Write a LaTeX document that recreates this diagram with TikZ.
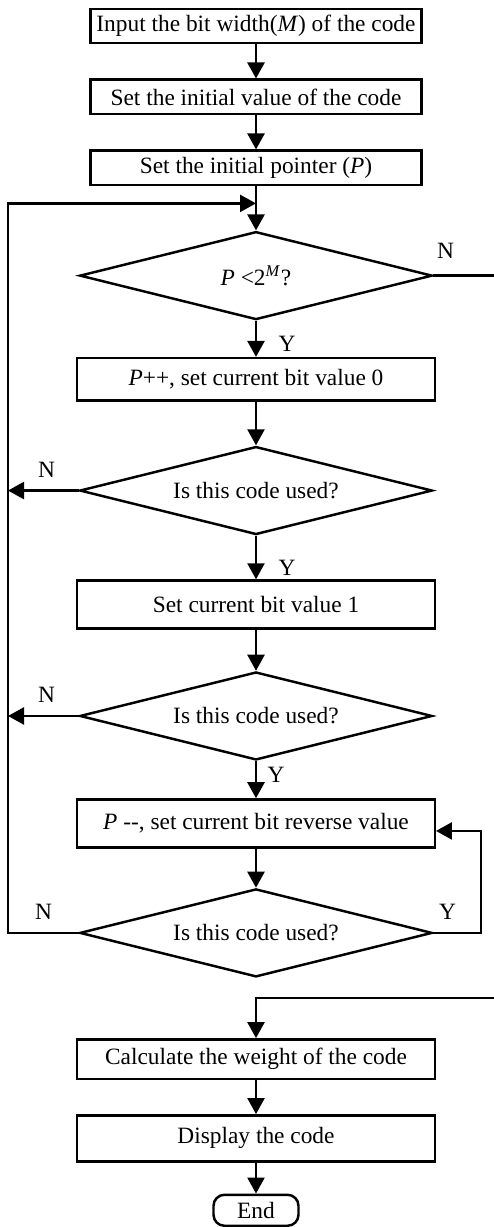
\documentclass[tikz,border=0pt]{standalone}
\usepackage{fontspec}
\setmainfont{Liberation Serif}
\usetikzlibrary{arrows.meta,positioning,shapes.geometric,calc}
\tikzset{
  txt/.style={font=\fontsize{13.3}{15}\selectfont},
  box/.style={txt,draw,line width=1.4pt,minimum width=7.15cm,
    minimum height=0.9cm,inner sep=2pt,align=center},
  topbox/.style={box,minimum width=6.62cm,minimum height=0.69cm},
  decision/.style={txt,draw,diamond,line width=1.4pt,aspect=4,inner sep=0pt,
    minimum width=7.05cm,minimum height=1.76cm},
  terminal/.style={txt,draw,rounded corners=0.22cm,line width=1.4pt,
    minimum width=1.7cm,minimum height=0.62cm},
  lbl/.style={txt,inner sep=0pt},
  arrow/.style={-{Triangle[length=0.32cm,width=0.34cm]},line width=1.4pt},
  line/.style={line width=1.4pt}
}

\begin{document}
\begin{tikzpicture}[node distance=0.68cm]
\useasboundingbox (0,0) rectangle (9.86,-24.54);

\node[topbox] (b1) at (5.12,-0.52) {Input the bit width(\textit{M}) of the code};
\node[topbox,below=of b1] (b2) {Set the initial value of the code};
\node[topbox,below=of b2] (b3) {Set the initial pointer (\textit{P})};
\node[decision,below=0.88cm of b3] (d1) {\textit{P}~<2\textsuperscript{\textit{M}}?};
\node[box,below=0.72cm of d1,minimum height=0.85cm] (b4) {\textit{P}++, set current bit value 0};
\node[decision,below=0.87cm of b4] (d2) {Is this code used?};
\node[box,below=0.87cm of d2,minimum height=0.96cm] (b5) {Set current bit value 1};
\node[decision,below=0.82cm of b5] (d3) {Is this code used?};
\node[box,below=0.74cm of d3,minimum height=0.96cm] (b6) {\textit{P} -{}-, set current bit reverse value};
\node[decision,below=0.78cm of b6] (d4) {Is this code used?};
\node[box,below=1.2cm of d4,minimum height=0.79cm] (b7) {Calculate the weight of the code};
\node[box,below=of b7,minimum height=0.92cm] (b8) {Display the code};
\node[terminal,below=0.62cm of b8] (fin) {End};

\coordinate (merge) at ([yshift=-0.34cm]b3.south);
\coordinate (rail) at (0.16,0);
\coordinate (rrail) at (9.62,0);
\coordinate (xr) at (10.0,0);
\coordinate (b6in) at ([yshift=-0.15cm]b6.east);
\coordinate (b7in) at ([yshift=0.8cm]b7.north);

\draw[arrow] (b1) -- (b2);
\draw[arrow] (b2) -- (b3);
\draw[arrow] (b3) -- (d1);
\draw[arrow] (d1) -- (b4);
\draw[arrow] (b4) -- (d2);
\draw[arrow] (d2) -- (b5);
\draw[arrow] (b5) -- (d3);
\draw[arrow] (d3) -- (b6);
\draw[arrow] (b6) -- (d4);
\draw[arrow] (b7) -- (b8);
\draw[arrow] (b8) -- (fin);

\draw[arrow] (d2.west) -- (rail |- d2.west);
\draw[arrow] (d3.west) -- (rail |- d3.west);
\draw[arrow] (d4.west) -| (rail |- merge) -- (merge);
\draw[arrow] (d4.east) -| (rrail |- b6in) -- (b6in);
\draw[arrow] (d1.east) -| (xr |- b7in) -- (b7in) -- (b7.north);

\node[lbl] at ($(d1.east)+(0.24,0.5)$) {N};
\node[lbl] at ($(d1.south)+(0.62,-0.46)$) {Y};
\node[lbl] at ($(d2.west)+(-0.64,0.42)$) {N};
\node[lbl] at ($(d2.south)+(0.62,-0.64)$) {Y};
\node[lbl] at ($(d3.west)+(-0.64,0.42)$) {N};
\node[lbl] at ($(d3.south)+(0.4,-0.28)$) {Y};
\node[lbl] at ($(d4.west)+(-0.7,0.42)$) {N};
\node[lbl] at ($(d4.east)+(0.28,0.42)$) {Y};

\end{tikzpicture}
\end{document}
